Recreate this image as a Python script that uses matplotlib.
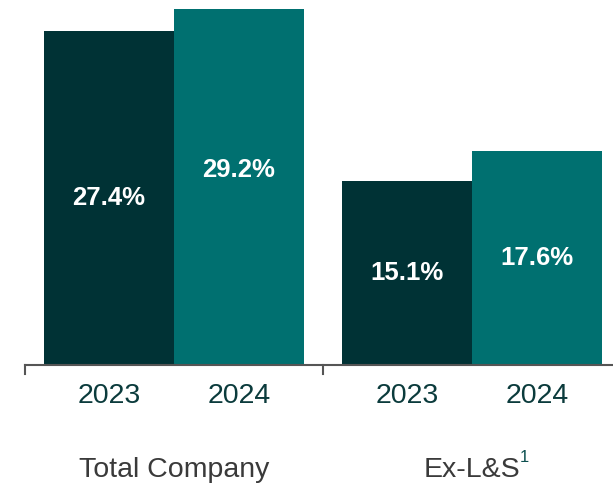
import matplotlib.pyplot as plt

groups = ['Total Company', 'Ex-L&S']
years = ['2023', '2024']
v2023 = [27.4, 15.1]
v2024 = [29.2, 17.6]

c_dark = '#003235'
c_teal = '#007070'
w = 0.436

plt.rcParams['font.family'] = ['Liberation Sans', 'DejaVu Sans']

fig = plt.figure(figsize=(6.13, 4.87), dpi=100)
ax = fig.add_axes([0, 0, 1, 1])
ax.set_xlim(-0.584, 1.473)
ax.set_ylim(-10.0, 29.95)

x = [0, 1]
b1 = ax.bar([i - w/2 for i in x], v2023, w, color=c_dark)
b2 = ax.bar([i + w/2 for i in x], v2024, w, color=c_teal)

# value labels
ly1 = [v/2 for v in v2023]
ly2 = [v/2 for v in v2024]
ly2[0] = 16.0
for i in x:
    ax.text(i - w/2, ly1[i], f'{v2023[i]}%', ha='center', va='center',
            color='white', fontsize=18.5, fontweight='bold')
    ax.text(i + w/2, ly2[i], f'{v2024[i]}%', ha='center', va='center',
            color='white', fontsize=18.5, fontweight='bold')
    ax.text(i - w/2, -2.55, years[0], ha='center', va='center',
            color='#0b3b3c', fontsize=20.5)
    ax.text(i + w/2, -2.55, years[1], ha='center', va='center',
            color='#0b3b3c', fontsize=20.5)

ax.text(0, -8.6, groups[0], ha='center', va='center', color='#3a3a3a', fontsize=20.5)
ax.text(1.0, -8.6, groups[1], ha='center', va='center', color='#3a3a3a', fontsize=20.5)
ax.text(1.174, -7.6, '1', ha='center', va='center', color='#0d5050', fontsize=12)

# axis line with separators
ax.plot([-0.5, 1.473], [0, 0], color='#555555', lw=1.5, clip_on=False)
for s in [-0.5, 0.5]:
    ax.plot([s, s], [0, -0.75], color='#555555', lw=1.5)

ax.axis('off')
fig.savefig('out.png', dpi=100)
